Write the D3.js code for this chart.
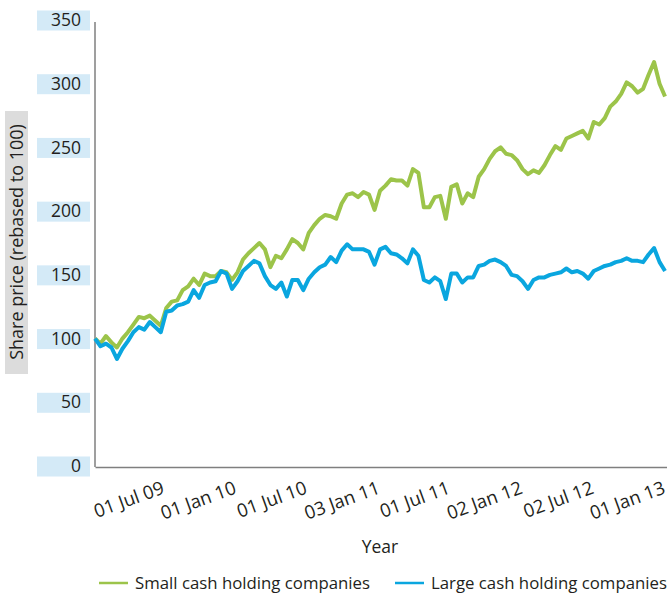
<!DOCTYPE html>
<html>
<head>
  <meta charset="utf-8">
  <title>Small vs large cash holding companies</title>
<script src="https://cdnjs.cloudflare.com/ajax/libs/d3/7.8.5/d3.min.js"></script>
<style>
body { margin: 0; background: white; }
text { font-family: "Open Sans", sans-serif; fill: #231f20; }
.axis path { stroke: #7f7f7f; stroke-width: 1.5; }
.axis line { display: none; }
.series { fill: none; stroke-width: 4; stroke-linejoin: round; }
</style>
</head>
<body>
<svg id="chart" width="667" height="595"></svg>
<script>
// fortnightly samples from 01 Jan 09, rebased to 100
var startDate = "2009-01-01";
var stepDays = 14;

var smallCash = [100, 96, 102, 97, 93, 100, 105, 111, 117, 116,
  118, 114, 110, 124, 129, 130, 138, 141, 147, 142,
  151, 149, 149, 153, 152, 146, 152, 162, 167, 171,
  175, 170, 156, 165, 163, 170, 178, 175, 170, 183,
  189, 194, 197, 196, 194, 206, 213, 214, 211, 215,
  213, 201, 216, 220, 225, 224, 224, 220, 233, 230,
  203, 203, 211, 212, 194, 219, 221, 206, 214, 211,
  227, 233, 241, 247, 250, 245, 244, 240, 233, 229,
  232, 230, 236, 244, 251, 248, 257, 259, 261, 263,
  257, 270, 268, 273, 282, 286, 292, 301, 298, 293,
  296, 307, 317, 300, 290];

var largeCash = [100, 94, 96, 93, 84, 92, 98, 105, 109, 107,
  113, 109, 105, 121, 122, 126, 127, 129, 138, 132,
  142, 144, 145, 153, 151, 139, 145, 153, 157, 161,
  159, 149, 142, 139, 144, 133, 146, 146, 138, 147,
  152, 156, 158, 164, 160, 169, 174, 170, 170, 170,
  168, 158, 170, 172, 167, 166, 163, 159, 170, 165,
  146, 144, 148, 145, 131, 151, 151, 144, 148, 148,
  157, 158, 161, 162, 160, 157, 150, 149, 145, 139,
  146, 148, 148, 150, 151, 152, 155, 152, 153, 151,
  147, 153, 155, 157, 158, 160, 161, 163, 161, 161,
  160, 166, 171, 160, 153];

var seriesNames = ["Small cash holding companies", "Large cash holding companies"];
var seriesColors = ["#9cc44a", "#0aa6df"];

var tickDates = ["2009-07-01", "2010-01-01", "2010-07-01", "2011-01-03",
                 "2011-07-01", "2012-01-02", "2012-07-02", "2013-01-01"];
var tickLabels = ["01 Jul 09", "01 Jan 10", "01 Jul 10", "03 Jan 11",
                  "01 Jul 11", "02 Jan 12", "02 Jul 12", "01 Jan 13"];
var yTicks = [0, 50, 100, 150, 200, 250, 300, 350];

var svg = d3.select("#chart");
var parse = d3.timeParse("%Y-%m-%d");
var start = parse(startDate);
var dates = smallCash.map((d, i) => d3.timeDay.offset(start, i * stepDays));

var x = d3.scaleTime()
  .domain([start, parse("2013-01-01")])
  .range([95, 667]);
var y = d3.scaleLinear()
  .domain([0, 350])
  .range([466, 20]);

// y axis with shaded label boxes
var gy = svg.append("g")
  .attr("class", "axis")
  .attr("transform", "translate(95,0)")
  .call(d3.axisLeft(y).tickValues(yTicks).tickSize(0).tickSizeOuter(0).tickPadding(14));
gy.selectAll(".tick").insert("rect", "text")
  .attr("x", -58).attr("y", -10)
  .attr("width", 53).attr("height", 20)
  .attr("fill", "#d4eaf7");
gy.selectAll(".tick text")
  .style("font-size", "17.5px")
  .attr("fill", "#231f20");
gy.select(".domain").attr("d", "M0,22V467");

// x axis
var gx = svg.append("g")
  .attr("class", "axis")
  .attr("transform", "translate(0,467)")
  .call(d3.axisBottom(x)
    .tickValues(tickDates.map(parse))
    .tickFormat((d, i) => tickLabels[i])
    .tickSize(0).tickSizeOuter(0));
gx.selectAll(".tick text")
  .attr("x", 0).attr("y", 0).attr("dy", 0)
  .attr("transform", "translate(-1,26) rotate(-20)")
  .style("text-anchor", "end")
  .style("font-size", "18.5px")
  .attr("fill", "#231f20");

// lines
var line = d3.line()
  .x((d, i) => x(dates[i]))
  .y(d => y(d));

[smallCash, largeCash].forEach(function(s, k) {
  svg.append("path")
    .datum(s)
    .attr("class", "series")
    .attr("stroke", seriesColors[k])
    .attr("d", line);
});

// axis titles
svg.append("rect")
  .attr("x", 5).attr("y", 111)
  .attr("width", 23).attr("height", 263)
  .attr("fill", "#dcdcdc");
svg.append("text")
  .attr("transform", "translate(17,242) rotate(-90)")
  .attr("text-anchor", "middle")
  .attr("dy", "0.35em")
  .style("font-size", "18px")
  .text("Share price (rebased to 100)");

svg.append("text")
  .attr("x", 380).attr("y", 553)
  .attr("text-anchor", "middle")
  .style("font-size", "17.5px")
  .text("Year");

// legend
var legendX = [99, 395];
seriesNames.forEach(function(name, k) {
  var g = svg.append("g").attr("transform", `translate(${legendX[k]},583)`);
  g.append("line")
    .attr("x1", 0).attr("x2", 29)
    .attr("stroke", seriesColors[k])
    .attr("stroke-width", 2.5);
  g.append("text")
    .attr("x", 36).attr("dy", "0.35em")
    .style("font-size", "16.8px")
    .text(name);
});
</script>
</body>
</html>
